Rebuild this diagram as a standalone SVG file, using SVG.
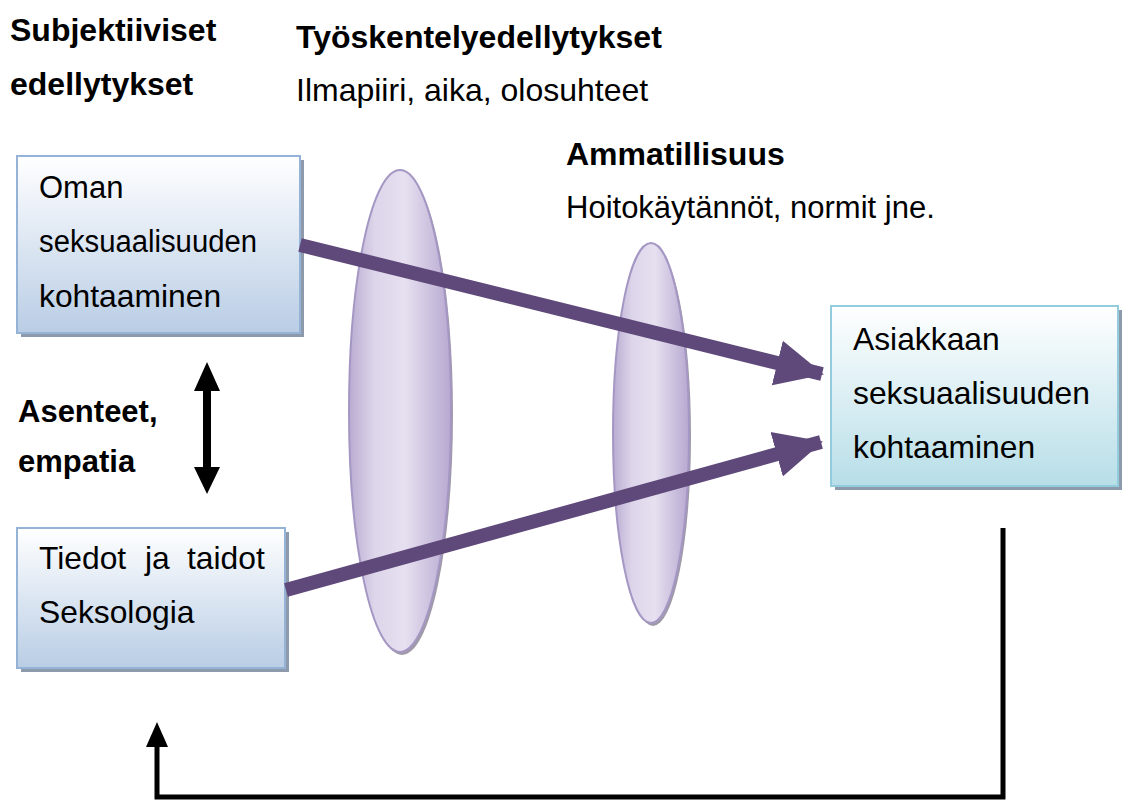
<svg xmlns="http://www.w3.org/2000/svg" width="1131" height="801" viewBox="0 0 1131 801">
<style>
text{font-family:"Liberation Sans",Arial,sans-serif;font-size:31px;fill:#000}
.b{font-weight:bold}
.t32{font-size:32px}
.t318{font-size:31.8px}
.box{fill:url(#gBlue);stroke:#95b3d7;stroke-width:2}
.box2{fill:url(#gCyan);stroke:#93cddd;stroke-width:2}
.sh{fill:#8d9aab}
.ell{fill:url(#gLens);stroke:#a597c4;stroke-width:2}
.esh{fill:#a09aa8}
.pur{fill:none;stroke:#5f497a;stroke-width:14}
.blk{fill:none;stroke:#000;stroke-width:5}
</style>
<defs>
<linearGradient id="gBlue" x1="0" y1="0" x2="0" y2="1">
<stop offset="0" stop-color="#ffffff"/><stop offset="1" stop-color="#b9cde5"/>
</linearGradient>
<linearGradient id="gCyan" x1="0" y1="0" x2="0" y2="1">
<stop offset="0" stop-color="#ffffff"/><stop offset="1" stop-color="#b7dee8"/>
</linearGradient>
<linearGradient id="gLens" x1="0" y1="0" x2="1" y2="0">
<stop offset="0" stop-color="#b9abd1"/><stop offset="0.25" stop-color="#ddd5ea"/><stop offset="0.55" stop-color="#e6e0f0"/><stop offset="1" stop-color="#b7a8d0"/>
</linearGradient>
<marker id="pHead" markerUnits="userSpaceOnUse" markerWidth="50" markerHeight="50" viewBox="0 0 50 50" refX="46" refY="25" orient="auto">
<path d="M0,2 L48,25 L0,48 Z" fill="#5f497a"/>
</marker>
</defs>

<g id="ellipse1">
<ellipse class="esh" cx="402" cy="414" rx="51" ry="241"/>
<ellipse class="ell" cx="400" cy="411" rx="51" ry="241"/>
</g>
<g id="ellipse2">
<ellipse class="esh" cx="653" cy="436" rx="38" ry="190"/>
<ellipse class="ell" cx="651" cy="433" rx="38" ry="190"/>
</g>

<g id="node-oman">
<rect class="sh" x="21" y="160" width="283" height="177"/>
<rect class="box" x="17" y="156" width="283" height="177"/>
<text x="39" y="198">Oman</text>
<text x="39" y="252" textLength="218" lengthAdjust="spacingAndGlyphs">seksuaalisuuden</text>
<text x="39" y="307" class="t318">kohtaaminen</text>
</g>

<g id="node-tiedot">
<rect class="sh" x="21" y="532" width="268" height="140"/>
<rect class="box" x="17" y="528" width="268" height="140"/>
<text x="39" y="569" class="t318">Tiedot</text>
<text x="145" y="569" class="t318">ja</text>
<text x="187" y="569" class="t318">taidot</text>
<text x="39" y="623" class="t318">Seksologia</text>
</g>

<g id="node-asiakkaan">
<rect class="sh" x="835" y="310" width="287" height="180"/>
<rect class="box2" x="831" y="306" width="287" height="180"/>
<text x="853" y="350" class="t318">Asiakkaan</text>
<text x="853" y="404" class="t318">seksuaalisuuden</text>
<text x="853" y="458" class="t318">kohtaaminen</text>
</g>

<g id="labels">
<text class="b t32" x="10" y="41">Subjektiiviset</text>
<text class="b t32" x="10" y="95">edellytykset</text>
<text class="b t32" x="296" y="48">Työskentelyedellytykset</text>
<text class="t32" x="296" y="101">Ilmapiiri, aika, olosuhteet</text>
<text class="b t32" x="566" y="165">Ammatillisuus</text>
<text x="566" y="218">Hoitokäytännöt, normit jne.</text>
<text class="b" x="18" y="422">Asenteet,</text>
<text class="b" x="18" y="472">empatia</text>
</g>

<g id="connectors">
<path class="pur" d="M300,245 L822,374" marker-end="url(#pHead)"/>
<path class="pur" d="M286,590 L821,442" marker-end="url(#pHead)"/>
<path d="M207,376 L207,480" stroke="#000" stroke-width="8" fill="none"/>
<path d="M207,362 L194,391 L220,391 Z M207,494 L194,467 L220,467 Z" fill="#000"/>
<path class="blk" d="M1003,528 L1003,797 L157,797 L157,745"/>
<path d="M157,722 L146,747 L168,747 Z" fill="#000"/>
</g>
</svg>
